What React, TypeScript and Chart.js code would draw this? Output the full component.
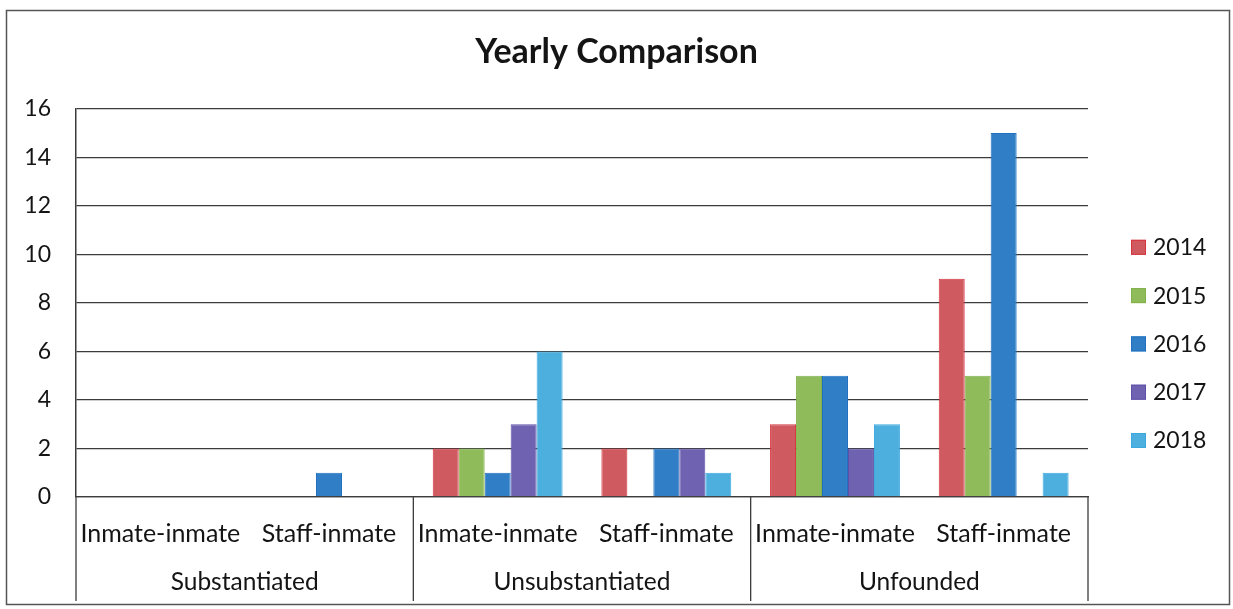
import React, { useEffect, useRef } from 'react';
import { Chart, registerables } from 'chart.js';

Chart.register(...registerables);

// ---- data ----
const subCategories = ['Inmate-inmate', 'Staff-inmate', 'Inmate-inmate', 'Staff-inmate', 'Inmate-inmate', 'Staff-inmate'];
const groupLabels = ['Substantiated', 'Unsubstantiated', 'Unfounded'];
const yearLabels = ['2014', '2015', '2016', '2017', '2018'];
const values2014 = [0, 0, 2, 2, 3, 9];
const values2015 = [0, 0, 2, 0, 5, 5];
const values2016 = [0, 1, 1, 2, 5, 15];
const values2017 = [0, 0, 3, 2, 2, 0];
const values2018 = [0, 0, 6, 1, 3, 1];
const yMin = 0;
const yMax = 16;
const yStep = 2;
const titleText = 'Yearly Comparison';

// ---- styles ----
const fillColors = ['#CF5A5F', '#8FBB5B', '#2F7EC6', '#6F62B0', '#4DAFDD'];
const edgeColors = ['#D8343E', '#80B24B', '#1F70C0', '#5C52A8', '#3BA9E0'];
const FONT = 'Lato, "Open Sans", sans-serif';
const TEXT = '#141414';
const LINE = '#3c3c3c';

const seriesValues = [values2014, values2015, values2016, values2017, values2018];

const framePlugin = {
  id: 'frame',
  beforeDraw(chart: any) {
    const { ctx, width, height } = chart;
    ctx.save();
    ctx.fillStyle = '#ffffff';
    ctx.fillRect(0, 0, width, height);
    ctx.strokeStyle = '#555555';
    ctx.lineWidth = 1.5;
    ctx.strokeRect(6.5, 10.5, width - 10, height - 15);
    ctx.restore();
  },
};

const groupPlugin = {
  id: 'groups',
  afterDraw(chart: any) {
    const { ctx, chartArea } = chart;
    const x = chart.scales.x;
    const bottom = chartArea.bottom;
    const bounds: number[] = [chartArea.left];
    for (let g = 0; g < groupLabels.length - 1; g++) {
      bounds.push((x.getPixelForValue(2 * g + 1) + x.getPixelForValue(2 * g + 2)) / 2);
    }
    bounds.push(chartArea.right);
    ctx.save();
    ctx.strokeStyle = LINE;
    ctx.lineWidth = 1.3;
    bounds.forEach((bx) => {
      ctx.beginPath();
      ctx.moveTo(bx, bottom);
      ctx.lineTo(bx, bottom + 104);
      ctx.stroke();
    });
    ctx.fillStyle = TEXT;
    ctx.font = `24.5px ${FONT}`;
    ctx.textAlign = 'center';
    ctx.textBaseline = 'middle';
    groupLabels.forEach((label, g) => {
      const cx = (x.getPixelForValue(2 * g) + x.getPixelForValue(2 * g + 1)) / 2;
      ctx.fillText(label, cx, bottom + 85);
    });
    ctx.restore();
  },
};

const legendPlugin = {
  id: 'sideLegend',
  afterDraw(chart: any) {
    const { ctx, chartArea } = chart;
    ctx.save();
    ctx.font = `23px ${FONT}`;
    ctx.textAlign = 'left';
    ctx.textBaseline = 'middle';
    chart.data.datasets.forEach((ds: any, i: number) => {
      const cy = chartArea.top + 138 + i * 48.3;
      const bx = chartArea.right + 43;
      ctx.fillStyle = ds.backgroundColor;
      ctx.fillRect(bx, cy - 7, 15, 15);
      ctx.strokeStyle = ds.borderColor;
      ctx.lineWidth = 1;
      ctx.strokeRect(bx + 0.5, cy - 6.5, 14, 14);
      ctx.fillStyle = TEXT;
      ctx.fillText(ds.label, bx + 22, cy + 1);
    });
    ctx.restore();
  },
};

export default function App() {
  const canvasRef = useRef<HTMLCanvasElement | null>(null);

  useEffect(() => {
    if (!canvasRef.current) return;
    const chart = new Chart(canvasRef.current, {
      type: 'bar',
      data: {
        labels: subCategories,
        datasets: yearLabels.map((label, i) => ({
          label,
          data: seriesValues[i],
          backgroundColor: fillColors[i],
          borderColor: edgeColors[i],
          borderWidth: 1,
          categoryPercentage: 0.77,
          barPercentage: 1.0,
        })),
      },
      options: {
        responsive: false,
        animation: false,
        layout: { padding: { top: 12, left: 8, right: 8, bottom: 12 } },
        plugins: {
          legend: { display: false },
          tooltip: { enabled: false },
          title: {
            display: true,
            text: titleText,
            color: TEXT,
            font: { family: FONT, size: 34, weight: 'bold' },
            padding: { top: 20, bottom: 36 },
          },
        },
        scales: {
          x: {
            grid: { display: false },
            border: { display: true, color: LINE, width: 1.3 },
            ticks: {
              color: TEXT,
              font: { family: FONT, size: 25 },
              padding: 14,
              maxRotation: 0,
              autoSkip: false,
            },
            afterFit(scale: any) {
              scale.height = 100;
            },
          },
          y: {
            min: yMin,
            max: yMax,
            grid: { color: LINE, lineWidth: 1.3, drawTicks: false },
            border: { display: true, color: LINE, width: 1.5 },
            ticks: {
              stepSize: yStep,
              color: TEXT,
              font: { family: FONT, size: 23 },
              padding: 25,
            },
            afterFit(scale: any) {
              scale.width = 68;
            },
          },
          legendSpace: {
            type: 'linear',
            position: 'right',
            display: true,
            grid: { display: false, drawTicks: false },
            border: { display: false },
            ticks: { display: false },
            afterFit(scale: any) {
              scale.width = 137;
            },
          },
        },
      } as any,
      plugins: [framePlugin, groupPlugin, legendPlugin],
    });
    return () => chart.destroy();
  }, []);

  return (
    <div style={{ position: 'absolute', left: 0, top: 0, width: 1233, height: 609 }}>
      <canvas ref={canvasRef} width={1233} height={609} />
    </div>
  );
}
